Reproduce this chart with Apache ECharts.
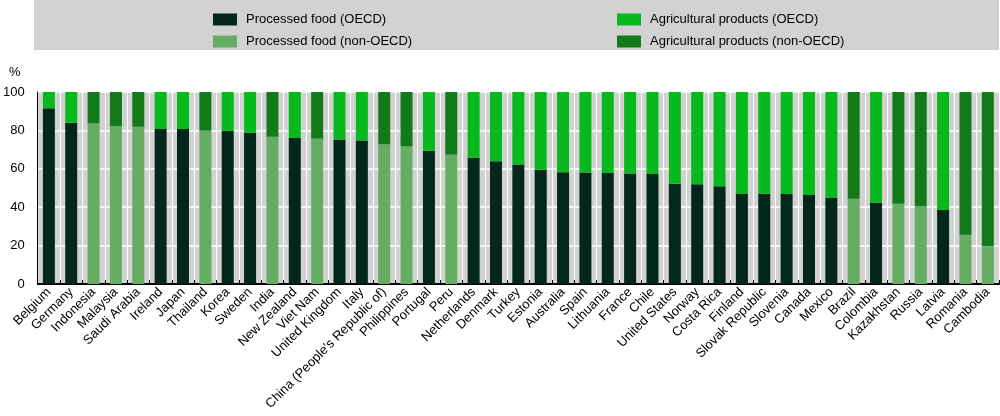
<!DOCTYPE html>
<html>
<head>
<meta charset="utf-8">
<script src="https://cdn.jsdelivr.net/npm/echarts@6/dist/echarts.min.js"></script>
<style>html,body{margin:0;padding:0;background:#fff}#c{width:1000px;height:416px}</style>
</head>
<body>
<div id="c"></div>
<script>
const categories = ["Belgium","Germany","Indonesia","Malaysia","Saudi Arabia","Ireland","Japan","Thailand","Korea","Sweden","India","New Zealand","Viet Nam","United Kingdom","Italy","China (People's Republic of)","Philippines","Portugal","Peru","Netherlands","Denmark","Turkey","Estonia","Australia","Spain","Lithuania","France","Chile","United States","Norway","Costa Rica","Finland","Slovak Republic","Slovenia","Canada","Mexico","Brazil","Colombia","Kazakhstan","Russia","Latvia","Romania","Cambodia"];
const processedOECD =    [91.5,84.0,null,null,null,80.7,80.7,null,79.8,78.8,null,76.0,null,75.2,74.8,null,null,69.4,null,65.8,63.9,62.3,59.5,58.2,58.1,57.8,57.5,57.3,52.2,51.9,50.9,47.1,47.0,46.9,46.4,45.1,null,42.4,null,null,38.5,null,null];
const processedNonOECD = [null,null,83.7,82.3,81.9,null,null,79.9,null,null,76.7,null,75.7,null,null,72.7,71.7,null,67.4,null,null,null,null,null,null,null,null,null,null,null,null,null,null,null,null,null,44.4,null,41.8,40.6,null,25.7,19.6];
const agriOECD =         [8.5,16.0,null,null,null,19.3,19.3,null,20.2,21.2,null,24.0,null,24.8,25.2,null,null,30.6,null,34.2,36.1,37.7,40.5,41.8,41.9,42.2,42.5,42.7,47.8,48.1,49.1,52.9,53.0,53.1,53.6,54.9,null,57.6,null,null,61.5,null,null];
const agriNonOECD =      [null,null,16.3,17.7,18.1,null,null,20.1,null,null,23.3,null,24.3,null,null,27.3,28.3,null,32.6,null,null,null,null,null,null,null,null,null,null,null,null,null,null,null,null,null,55.6,null,58.2,59.4,null,74.3,80.4];
const yTicks = [0,20,40,60,80,100];

const names = ["Processed food (OECD)","Processed food (non-OECD)","Agricultural products (OECD)","Agricultural products (non-OECD)"];
const colors = ["#03271b","#65ad62","#07b91d","#137a1a"];
const dataSets = [processedOECD, processedNonOECD, agriOECD, agriNonOECD];

const chart = echarts.init(document.getElementById('c'), null, {renderer:'canvas'});
const font = 'Liberation Sans, Arial, sans-serif';
chart.setOption({
  animation:false,
  textStyle:{fontFamily:font},
  graphic:[
    {type:'rect', left:34, top:0, shape:{width:965,height:50}, style:{fill:'#d2d2d2'}, z:-1},
    {type:'text', left:9, top:66, style:{text:'%', font:'13px '+font, fill:'#000'}}
  ],
  legend:[
    {data:names.slice(0,2), orient:'vertical', left:208, top:8, itemWidth:24, itemHeight:12, itemGap:9, icon:'rect', selectedMode:false, textStyle:{fontSize:13, color:'#000', fontFamily:font, padding:[0,0,0,4]}},
    {data:names.slice(2,4), orient:'vertical', left:612, top:8, itemWidth:24, itemHeight:12, itemGap:9, icon:'rect', selectedMode:false, textStyle:{fontSize:13, color:'#000', fontFamily:font, padding:[0,0,0,4]}}
  ],
  grid:{left:35, right:1, top:92, bottom:132, show:true, backgroundColor:'#d2d2d2', borderWidth:0, containLabel:false},
  xAxis:{
    type:'category', data:categories,
    axisLine:{show:true, lineStyle:{color:'#000', width:2}},
    axisTick:{show:true, inside:true, length:4, lineStyle:{color:'#000'}},
    splitLine:{show:true, lineStyle:{color:'#fff', width:1}},
    axisLabel:{rotate:45, interval:0, fontSize:13, color:'#000', fontFamily:font, margin:6}
  },
  yAxis:{
    type:'value', min:yTicks[0], max:yTicks[yTicks.length-1], interval:20,
    axisLine:{show:true, lineStyle:{color:'#000', width:1}},
    axisTick:{show:false},
    splitLine:{show:true, lineStyle:{color:'#fff', width:1.5}},
    axisLabel:{fontSize:13, color:'#000', fontFamily:font, margin:13}
  },
  series: names.map((n,i)=>({
    name:n, type:'bar', stack:'total', data:dataSets[i], barWidth:12,
    itemStyle:{color:colors[i]}
  }))
});
</script>
</body>
</html>
